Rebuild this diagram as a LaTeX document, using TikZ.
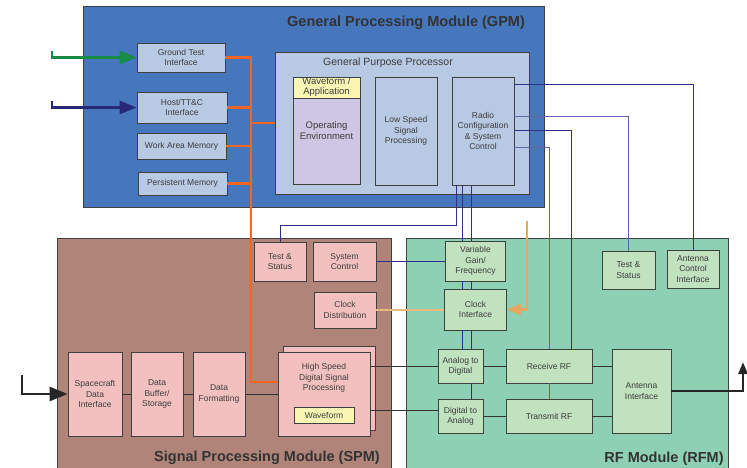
\documentclass[tikz,border=0pt]{standalone}
\usepackage{fontspec}
\setmainfont{Liberation Sans}
\usepackage{tikz}
\usetikzlibrary{arrows.meta}

\definecolor{gpmblue}{RGB}{70,118,188}
\definecolor{gpbox}{RGB}{184,201,228}
\definecolor{oplav}{RGB}{206,198,226}
\definecolor{wfyel}{RGB}{250,246,180}
\definecolor{spmbrown}{RGB}{177,132,121}
\definecolor{spbox}{RGB}{242,193,191}
\definecolor{rfmgreen}{RGB}{142,208,180}
\definecolor{rfbox}{RGB}{193,226,190}
\definecolor{txtgray}{RGB}{60,60,60}
\definecolor{ctlblue}{RGB}{48,48,138}
\definecolor{ctlpale}{RGB}{98,98,168}
\definecolor{busorange}{RGB}{242,101,34}
\definecolor{clktan}{RGB}{228,168,96}
\definecolor{gtgreen}{RGB}{22,140,72}
\definecolor{hostnavy}{RGB}{40,40,120}

\begin{document}
\begin{tikzpicture}[x=1pt, y=-1pt,
    >={Triangle[length=17pt,width=13pt]},
    module/.style={draw=black!75, line width=1pt, inner sep=0pt},
    box/.style={draw=black!75, line width=0.8pt, inner sep=1pt, align=center,
        font=\fontsize{8.5}{10.3}\selectfont, text=txtgray},
    gbox/.style={box, fill=gpbox},
    sbox/.style={box, fill=spbox},
    rbox/.style={box, fill=rfbox},
    title/.style={font=\fontsize{14.5}{16}\selectfont\bfseries, text=black!80},
    ctl/.style={draw=ctlblue, line width=0.9pt},
    dat/.style={draw=black!80, line width=0.8pt},
    bus/.style={draw=busorange, line width=2.8pt},
    clk/.style={draw=clktan, line width=2.2pt},
    io/.style={draw=black!85, line width=2.5pt}]
    \useasboundingbox (0,0) rectangle (747,468);

    % general processing module
    \node[module, fill=gpmblue, minimum width=461pt, minimum height=200pt] (gpm) at (313.5,107) {};
    \node[title] (gpmtitle) at (406,23) {General Processing Module (GPM)};
    \node[gbox, minimum width=88pt, minimum height=29pt] (gti) at (181,57.5) {Ground Test\\Interface};
    \node[gbox, minimum width=90pt, minimum height=31pt] (hti) at (182,107.5) {Host/TT\&C\\Interface};
    \node[gbox, minimum width=89pt, minimum height=26pt] (wam) at (181.5,146) {Work Area Memory};
    \node[gbox, minimum width=89pt, minimum height=23pt] (pmem) at (182.5,183.5) {Persistent Memory};
    \node[gbox, minimum width=254pt, minimum height=142pt] (gpp) at (402,123) {};
    \node[font=\fontsize{10.5}{12}\selectfont, text=txtgray] (gpptitle) at (388,63) {General Purpose Processor};
    \node[box, fill=oplav, minimum width=67pt, minimum height=107pt,
        font=\fontsize{9.5}{11.5}\selectfont] (openv) at (326.5,130.5) {Operating\\Environment};
    \node[box, fill=wfyel, minimum width=67pt, minimum height=21pt, inner sep=0pt,
        font=\fontsize{9.5}{10}\selectfont] (wfapp) at (326.5,87.5) {Waveform /\\Application};
    \node[gbox, minimum width=62pt, minimum height=108pt] (lssp) at (406,131) {Low Speed\\Signal\\Processing};
    \node[gbox, minimum width=62pt, minimum height=108pt] (rcsc) at (483,131) {Radio\\Configuration\\\& System\\Control};

    % signal processing module
    \node[module, fill=spmbrown, minimum width=334pt, minimum height=236pt] (spm) at (224,356) {};
    \node[title] (spmtitle) at (267,458) {Signal Processing Module (SPM)};
    \node[sbox, minimum width=52pt, minimum height=39pt] (sts) at (280,261.5) {Test \&\\Status};
    \node[sbox, minimum width=63pt, minimum height=39pt] (syc) at (344.5,261.5) {System\\Control};
    \node[sbox, minimum width=62pt, minimum height=36pt] (cld) at (345,310) {Clock\\Distribution};
    \node[sbox, minimum width=54pt, minimum height=84pt] (sdi) at (95,394) {Spacecraft\\Data\\Interface};
    \node[sbox, minimum width=52pt, minimum height=84pt] (dbs) at (157,394) {Data\\Buffer/\\Storage};
    \node[sbox, minimum width=52pt, minimum height=84pt] (dfm) at (219,394) {Data\\Formatting};
    \node[sbox, minimum width=92pt, minimum height=84pt] (hsback) at (329.5,388) {};
    \node[sbox, minimum width=92pt, minimum height=84pt] (hsdsp) at (324,394) {};
    \node[box, draw=none] (hsdsplbl) at (324,378) {High Speed\\Digital Signal\\Processing};
    \node[box, fill=wfyel, minimum width=60pt, minimum height=16pt] (wfm) at (324,415) {Waveform};

    % rf module
    \node[module, fill=rfmgreen, minimum width=322pt, minimum height=236pt] (rfm) at (567,356) {};
    \node[title] (rfmtitle) at (664,459) {RF Module (RFM)};
    \node[rbox, minimum width=60pt, minimum height=40pt] (vgf) at (475.5,261) {Variable\\Gain/\\Frequency};
    \node[rbox, minimum width=62pt, minimum height=41pt] (cif) at (475.5,309.5) {Clock\\Interface};
    \node[rbox, minimum width=45pt, minimum height=34pt] (adc) at (460.5,366) {Analog to\\Digital};
    \node[rbox, minimum width=45pt, minimum height=34pt] (dac) at (460.5,416) {Digital to\\Analog};
    \node[rbox, minimum width=86pt, minimum height=34pt] (rrf) at (549,366) {Receive RF};
    \node[rbox, minimum width=86pt, minimum height=34pt] (trf) at (549,416) {Transmit RF};
    \node[rbox, minimum width=59pt, minimum height=84pt] (ant) at (641.5,391) {Antenna\\Interface};
    \node[rbox, minimum width=53pt, minimum height=38pt] (rts) at (628.5,270) {Test \&\\Status};
    \node[rbox, minimum width=52pt, minimum height=38pt] (aci) at (693,269) {Antenna\\Control\\Interface};

    \coordinate (gtin) at (52,51);
    \coordinate (hostin) at (52,101);
    \coordinate (bus) at (251,57.5);
    \coordinate (scin) at (22,375);
    \coordinate (antout) at (743,362);
    \coordinate (clkin) at (527,221);
    \coordinate (dacin) at ([yshift=6pt]dac.west);

    % external inputs
    \draw[->, line width=2.5pt, draw=gtgreen] (gtin) |- (gti.west);
    \draw[->, line width=2.5pt, draw=hostnavy] (hostin) |- (hti.west);
    \draw[io, -{Triangle[length=18pt,width=14pt]}] (scin) |- (sdi.west);
    \draw[io, -{Triangle[length=12pt,width=9pt]}] (ant.east) -| (antout);

    % processor bus
    \draw[bus] (gti.east) -- (bus) |- ([yshift=12pt]hsdsp.west);
    \foreach \src in {hti,wam,pmem}
        \draw[bus] (\src.east) -- (\src.east -| bus);
    \draw[bus] (bus |- gpp.west) -- (gpp.west);

    % control lines
    \draw[ctl] ([yshift=47pt]rcsc.east) -| (aci.north);
    \draw[ctl, draw=ctlpale] ([yshift=15pt]rcsc.east) -| (rts.north);
    \draw[ctl] ([yshift=1pt]rcsc.east) -| ([xshift=22pt]rrf.north);
    \draw[ctl, draw=ctlpale] ([yshift=-16pt]rcsc.east) -| (rrf.north);
    \draw[ctl, draw=ctlpale] (rrf.south) -- (trf.north);
    \draw[ctl] ([xshift=-27pt]rcsc.south) -- ++(0,40) -| (sts.north);
    \foreach \dx in {-13,-4} {
        \draw[ctl] ([xshift=\dx pt]vgf.north) -- ([xshift=\dx pt]vgf.north |- rcsc.south);
        \draw[ctl] ([xshift=\dx pt]vgf.south) -- ([xshift=\dx pt]cif.north);
        \draw[ctl] ([xshift=\dx pt]cif.south) -- ([xshift=\dx pt]cif.south |- adc.north);
    }
    \draw[ctl] ([xshift=11pt]adc.south) -- ([xshift=11pt]dac.north);
    \draw[ctl] (syc.east) -- (syc.east -| vgf.west);

    % data path
    \draw[dat] (sdi.east) -- (dbs.west);
    \draw[dat] (dbs.east) -- (dfm.west);
    \draw[dat] (dfm.east) -- (hsdsp.west);
    \draw[dat] (adc.west -| hsdsp.east) -- (adc.west);
    \draw[dat] (dacin -| hsdsp.east) -- (dacin);
    \draw[dat] (adc.east) -- (rrf.west);
    \draw[dat] (dac.east) -- (trf.west);
    \draw[dat] (rrf.east) -- (rrf.east -| ant.west);
    \draw[dat] (trf.east) -- (trf.east -| ant.west);

    % clock
    \draw[clk, line width=1.4pt, draw=clktan!80] (cld.east) -- (cld.east -| cif.west);
    \draw[clk, -{Triangle[length=14pt,width=11pt]}] (clkin) |- (cif.east);
\end{tikzpicture}
\end{document}
